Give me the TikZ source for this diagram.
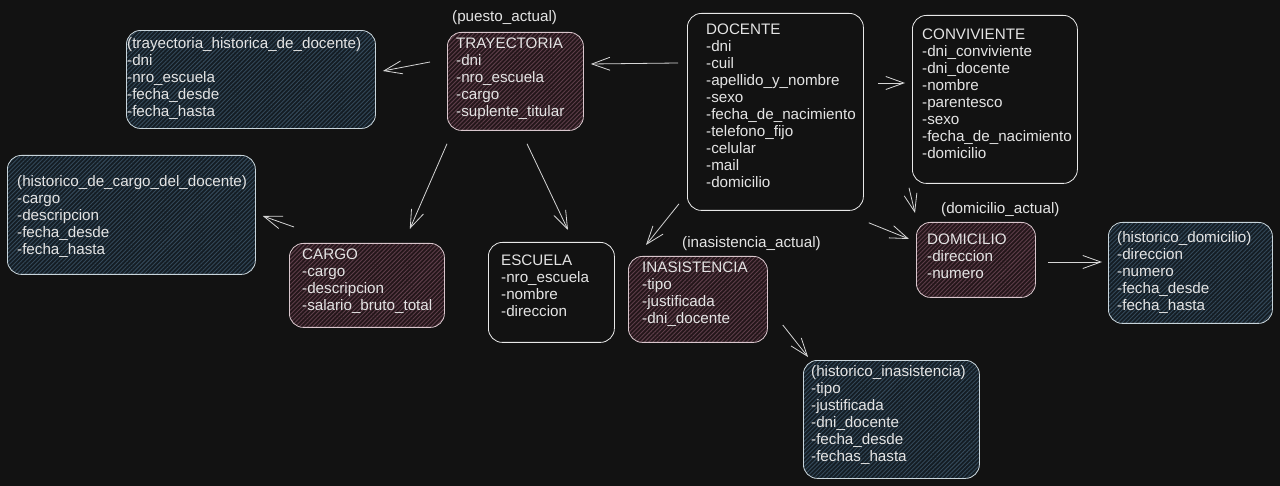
\documentclass[tikz,border=0pt]{standalone}
\usepackage{fontspec}
\setmainfont{Liberation Sans}
\usetikzlibrary{arrows.meta,patterns.meta}
\definecolor{bg}{HTML}{121212}
\definecolor{fg}{HTML}{E4E4E4}
\definecolor{plainline}{HTML}{E8E8E8}
\definecolor{redline}{HTML}{D8C6CC}
\definecolor{redbase}{HTML}{24161A}
\definecolor{redhatch}{HTML}{5E3E4A}
\definecolor{blueline}{HTML}{C8D4DA}
\definecolor{bluebase}{HTML}{141D24}
\definecolor{bluehatch}{HTML}{34495A}
\definecolor{arrline}{HTML}{D6D6D6}
\newcommand{\ent}[1]{\begin{tabular}[t]{@{}l@{}}#1\end{tabular}}
\begin{document}
\begin{tikzpicture}[x=1pt,y=-1pt,
  box/.style={draw=plainline, line width=0.8pt, rounded corners=14pt, anchor=north west, inner sep=0pt},
  redbox/.style={box, draw=redline, preaction={fill=redbase}, pattern={Lines[angle=45,distance=3pt,line width=0.9pt]}, pattern color=redhatch},
  bluebox/.style={box, draw=blueline, preaction={fill=bluebase}, pattern={Lines[angle=45,distance=3pt,line width=0.9pt]}, pattern color=bluehatch},
  txt/.style={anchor=base west, inner sep=0pt, text=fg, font=\fontsize{15.2}{17}\selectfont},
  arr/.style={draw=arrline, line width=0.8pt, -{Straight Barb[length=18pt,width=13pt,line width=0.8pt]}}
]
\fill[bg] (0,0) rectangle (1280,486);
\useasboundingbox (0,0) rectangle (1280,486);

% boxes
\node[bluebox, minimum width=249pt, minimum height=98pt] (htray) at (126,30) {};
\node[redbox, minimum width=136pt, minimum height=98pt] (tray) at (447,32) {};
\node[box, minimum width=176pt, minimum height=197pt] (doc) at (687,13) {};
\node[box, minimum width=165pt, minimum height=168pt] (conv) at (912,15) {};
\node[bluebox, minimum width=248pt, minimum height=119pt] (hcargo) at (7,155) {};
\node[redbox, minimum width=155pt, minimum height=84pt] (cargo) at (289,243) {};
\node[box, minimum width=126pt, minimum height=100pt] (esc) at (488,242) {};
\node[redbox, minimum width=139pt, minimum height=86pt] (inas) at (628,256) {};
\node[redbox, minimum width=119pt, minimum height=75pt] (dom) at (916,222) {};
\node[bluebox, minimum width=164pt, minimum height=101pt] (hdom) at (1108,222) {};
\node[bluebox, minimum width=176pt, minimum height=118pt] (hinas) at (803,360) {};

% texts
\node[txt] (t-htray) at (127,49) {\ent{(trayectoria\_historica\_de\_docente)\\-dni\\-nro\_escuela\\-fecha\_desde\\-fecha\_hasta}};
\node[txt] (t-tray) at (456,49) {\ent{TRAYECTORIA\\-dni\\-nro\_escuela\\-cargo\\-suplente\_titular}};
\node[txt] (l-tray) at (452,22) {(puesto\_actual)};
\node[txt] (t-doc) at (706,35) {\ent{DOCENTE\\-dni\\-cuil\\-apellido\_y\_nombre\\-sexo\\-fecha\_de\_nacimiento\\-telefono\_fijo\\-celular\\-mail\\-domicilio}};
\node[txt] (t-conv) at (922,40) {\ent{CONVIVIENTE\\-dni\_conviviente\\-dni\_docente\\-nombre\\-parentesco\\-sexo\\-fecha\_de\_nacimiento\\-domicilio}};
\node[txt] (t-hcargo) at (17,187) {\ent{(historico\_de\_cargo\_del\_docente)\\-cargo\\-descripcion\\-fecha\_desde\\-fecha\_hasta}};
\node[txt] (t-cargo) at (302,260) {\ent{CARGO\\-cargo\\-descripcion\\-salario\_bruto\_total}};
\node[txt] (t-esc) at (501,266) {\ent{ESCUELA\\-nro\_escuela\\-nombre\\-direccion}};
\node[txt] (t-inas) at (642,273) {\ent{INASISTENCIA\\-tipo\\-justificada\\-dni\_docente}};
\node[txt] (l-inas) at (682,248) {(inasistencia\_actual)};
\node[txt] (t-dom) at (927,245) {\ent{DOMICILIO\\-direccion\\-numero}};
\node[txt] (l-dom) at (941,214) {(domicilio\_actual)};
\node[txt] (t-hdom) at (1117,243) {\ent{(historico\_domicilio)\\-direccion\\-numero\\-fecha\_desde\\-fecha\_hasta}};
\node[txt] (t-hinas) at (811,377) {\ent{(historico\_inasistencia)\\-tipo\\-justificada\\-dni\_docente\\-fecha\_desde\\-fechas\_hasta}};

% connectors
\draw[arr] ([shift={(-17,30)}]tray.north west) -- ([shift={(7,41)}]htray.north east);
\draw[arr] ([shift={(-9,50)}]doc.north west) -- ([shift={(7,32)}]tray.north east);
\draw[arr] ([shift={(14,70)}]doc.north east) -- ([shift={(-7,68)}]conv.north west);
\draw[arr] ([shift={(-3,4)}]conv.south west) -- ([shift={(-1,-9)}]dom.north west);
\draw[arr] ([shift={(5,12)}]doc.south east) -- ([shift={(-7,17)}]dom.north west);
\draw[arr] ([shift={(12,40)}]dom.north east) -- ([shift={(-6,40)}]hdom.north west);
\draw[arr] ([shift={(15,69)}]inas.north east) -- ([shift={(5,-3)}]hinas.north west);
\draw[arr] ([shift={(-8,-7)}]doc.south west) -- ([shift={(18,-11)}]inas.north west);
\draw[arr] ([shift={(0,13)}]tray.south west) -- ([shift={(-35,-14)}]cargo.north east);
\draw[arr] ([shift={(80,13)}]tray.south west) -- ([shift={(80,-12)}]esc.north west);
\draw[arr] ([shift={(5,-16)}]cargo.north west) -- ([shift={(7,61)}]hcargo.north east);
\end{tikzpicture}
\end{document}
